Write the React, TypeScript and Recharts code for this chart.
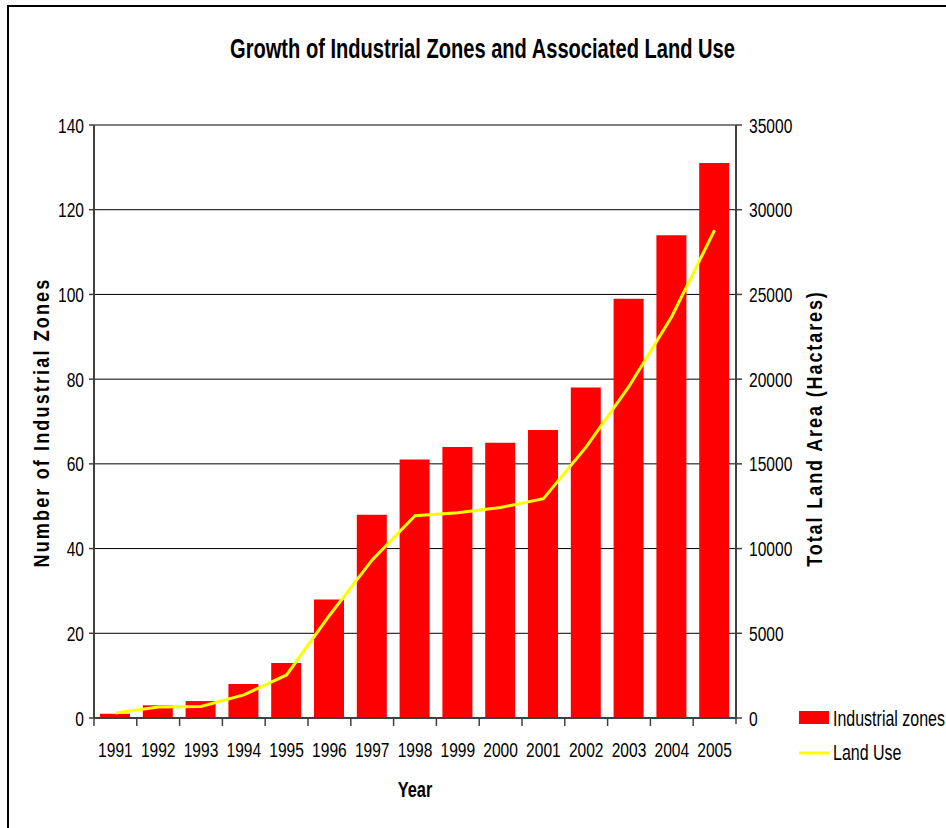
import React from 'react';
import { ComposedChart, Bar, Line, XAxis, YAxis, CartesianGrid, Legend, Label } from 'recharts';

const years = ['1991', '1992', '1993', '1994', '1995', '1996', '1997', '1998', '1999', '2000', '2001', '2002', '2003', '2004', '2005'];
const industrialZones = [1, 3, 4, 8, 13, 28, 48, 61, 64, 65, 68, 78, 99, 114, 131];
const landUse = [300, 650, 680, 1360, 2540, 6050, 9330, 11940, 12120, 12430, 12940, 16000, 19570, 23700, 28800];
const leftTicks = [0, 20, 40, 60, 80, 100, 120, 140];
const rightTicks = [0, 5000, 10000, 15000, 20000, 25000, 30000, 35000];

const data = years.map((year, i) => ({ year, zones: industrialZones[i], land: landUse[i] }));

const FONT = "'Liberation Sans', Arial, sans-serif";
const AXIS = '#404040';
const SX = 0.82; // horizontal condensing to imitate a narrow face
const SY = 1.1; // slight vertical stretch seen in the reference text

const NText = (props: any) => {
  const { x, y, rotate, anchor, sy, children, ...rest } = props;
  const t = `translate(${x},${y})${rotate ? ` rotate(${rotate})` : ''} scale(${SX},${sy ?? SY})`;
  return (
    <text x={0} y={0} transform={t} textAnchor={anchor} fontFamily={FONT} fill="#000" {...rest}>
      {children}
    </text>
  );
};

const XTick = (props: any) => {
  const { x, y, payload, index, visibleTicksCount } = props;
  const half = payload && typeof payload.offset === 'number' && payload.offset > 0 ? payload.offset : 21.4;
  const axisY = y - 8;
  const isLast = index === (visibleTicksCount ? visibleTicksCount - 1 : years.length - 1);
  return (
    <g>
      <line x1={x - half} x2={x - half} y1={axisY} y2={axisY + 8} stroke={AXIS} strokeWidth={1.5} />
      {isLast && <line x1={x + half} x2={x + half} y1={axisY} y2={axisY + 6} stroke={AXIS} strokeWidth={1.5} />}
      <NText x={x} y={axisY + 38.5} anchor="middle" fontSize={19}>
        {payload.value}
      </NText>
    </g>
  );
};

const YTick = (props: any) => {
  const { x, y, payload, textAnchor } = props;
  return (
    <NText x={x} y={y} anchor={textAnchor} fontSize={19} dy="0.36em">
      {payload.value}
    </NText>
  );
};

const renderLegend = (props: any) => {
  const { payload } = props;
  return (
    <div style={{ fontFamily: FONT, fontSize: 19.5, color: '#000' }}>
      {(payload || []).map((entry: any, i: number) => (
        <div key={i} style={{ display: 'flex', alignItems: 'center', height: 34 }}>
          <svg width={30} height={14} style={{ display: 'block', flex: 'none' }}>
            {entry.type === 'line' ? (
              <line x1={0} x2={30} y1={8} y2={8} stroke={entry.color} strokeWidth={3} />
            ) : (
              <rect x={0} y={0} width={30} height={13} fill={entry.color} />
            )}
          </svg>
          <span
            style={{
              marginLeft: 4,
              whiteSpace: 'nowrap',
              display: 'inline-block',
              transform: `scale(${SX},${SY})`,
              transformOrigin: 'left center',
            }}
          >
            {entry.value}
          </span>
        </div>
      ))}
    </div>
  );
};

const LeftLabel = (props: any) => {
  const vb = props.viewBox || { x: 0, y: 125, width: 94, height: 593 };
  return (
    <NText x={49} y={vb.y + vb.height / 2 + 1} rotate={-90} sy={1} anchor="middle" fontSize={22} fontWeight="bold" letterSpacing={2.6}>
      Number of Industrial Zones
    </NText>
  );
};

const RightLabel = (props: any) => {
  const vb = props.viewBox || { x: 736, y: 125, width: 210, height: 593 };
  return (
    <NText x={822} y={vb.y + vb.height / 2 + 7} rotate={-90} sy={1} anchor="middle" fontSize={22} fontWeight="bold" letterSpacing={2.3}>
      Total Land Area (Hactares)
    </NText>
  );
};

const XLabel = (props: any) => {
  const vb = props.viewBox || { x: 94, y: 718, width: 642, height: 110 };
  return (
    <NText x={vb.x + vb.width / 2} y={vb.y + 79} anchor="middle" fontSize={20} fontWeight="bold">
      Year
    </NText>
  );
};

export default function App() {
  return (
    <div style={{ position: 'absolute', left: 0, top: 0, width: 946, height: 828, overflow: 'hidden', background: '#fff' }}>
      <div style={{ position: 'absolute', left: 7, top: 5, width: 980, height: 900, border: '2px solid #000', boxSizing: 'border-box' }} />
      <div
        style={{
          position: 'absolute',
          left: 176,
          top: 37,
          width: 600,
          textAlign: 'center',
          fontFamily: FONT,
          fontWeight: 'bold',
          fontSize: 24.5,
          lineHeight: '24.5px',
          color: '#000',
          whiteSpace: 'nowrap',
          transform: `scale(${SX},${SY})`,
          transformOrigin: 'center center',
        }}
      >
        Growth of Industrial Zones and Associated Land Use
      </div>
      <div style={{ position: 'absolute', left: 0, top: 0 }}>
        <ComposedChart width={946} height={828} data={data} margin={{ top: 125, right: 0, bottom: 0, left: 0 }}>
          <CartesianGrid yAxisId="left" vertical={false} stroke="#000" strokeWidth={1} />
          <XAxis
            dataKey="year"
            height={110}
            tickLine={false}
            tickSize={8}
            tickMargin={0}
            axisLine={{ stroke: AXIS, strokeWidth: 2 }}
            tick={<XTick />}
            interval={0}
          >
            <Label content={<XLabel />} />
          </XAxis>
          <YAxis
            yAxisId="left"
            orientation="left"
            width={94}
            domain={[0, 140]}
            ticks={leftTicks}
            interval={0}
            tickSize={5}
            tickMargin={5}
            axisLine={{ stroke: AXIS, strokeWidth: 2 }}
            tickLine={{ stroke: AXIS, strokeWidth: 1.5 }}
            tick={<YTick />}
          >
            <Label content={<LeftLabel />} />
          </YAxis>
          <YAxis
            yAxisId="right"
            orientation="right"
            width={210}
            domain={[0, 35000]}
            ticks={rightTicks}
            interval={0}
            tickSize={6}
            tickMargin={7}
            axisLine={{ stroke: AXIS, strokeWidth: 2 }}
            tickLine={{ stroke: AXIS, strokeWidth: 1.5 }}
            tick={<YTick />}
          >
            <Label content={<RightLabel />} />
          </YAxis>
          <Bar yAxisId="left" dataKey="zones" name="Industrial zones" fill="#FF0000" barSize={30} isAnimationActive={false} />
          <Line yAxisId="right" type="linear" dataKey="land" name="Land Use" stroke="#FFFF00" strokeWidth={3} dot={false} activeDot={false} isAnimationActive={false} />
          <Legend
            layout="vertical"
            align="center"
            verticalAlign="middle"
            content={renderLegend}
            wrapperStyle={{ left: 799, top: 701, width: 200 }}
          />
        </ComposedChart>
      </div>
    </div>
  );
}
